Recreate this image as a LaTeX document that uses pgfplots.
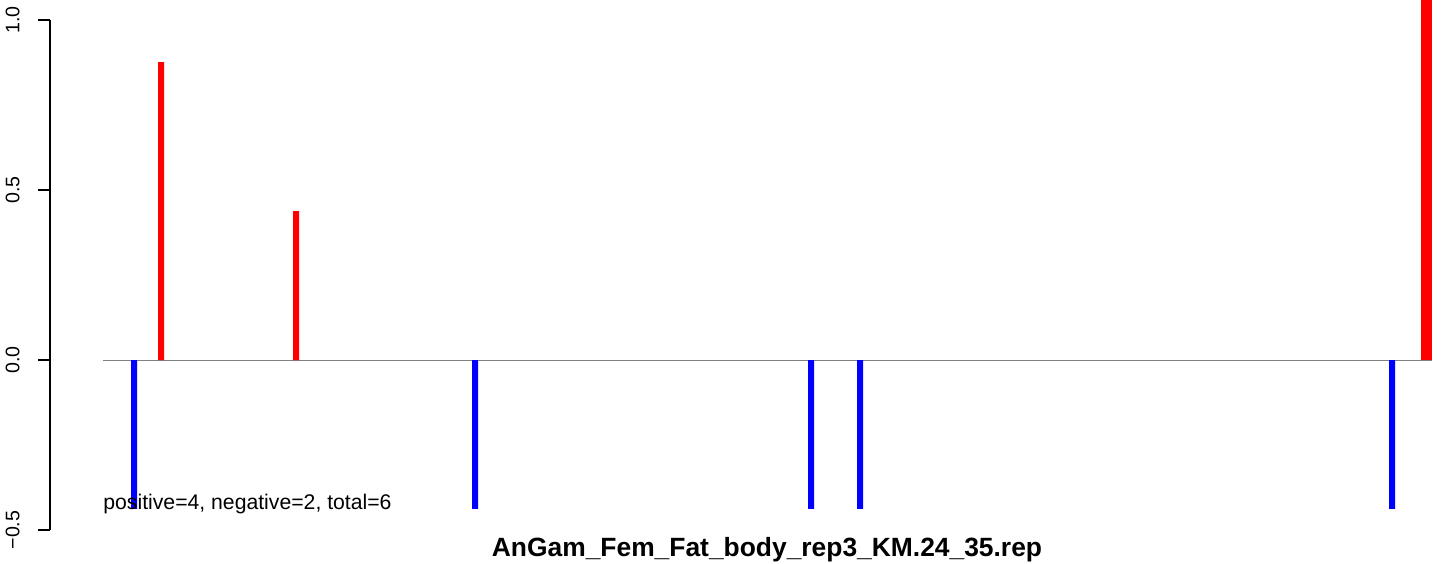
\documentclass[border=0pt]{standalone}
\usepackage{pgfplots}
\pgfplotsset{compat=1.18}
\usepackage{fontspec}
\setmainfont{Liberation Sans}
\begin{document}
\begin{tikzpicture}
\path[use as bounding box] (0,0) rectangle (722pt,281.5pt);
\begin{axis}[
  at={(25pt,16.5pt)}, anchor=south west,
  scale only axis, width=697pt, height=255pt,
  xmin=50, xmax=1444, ymin=-0.5, ymax=1.0,
  axis x line=none, axis y line=left,
  y axis line style={-, line width=0.6pt},
  xtick=\empty,
  ytick={-0.5,0,0.5,1}, yticklabels={−0.5,0.0,0.5,1.0},
  ytick align=outside, ytick pos=left, major tick length=6pt,
  ytick style={draw=black, line width=0.6pt},
  yticklabel style={font=\fontsize{9.8}{10}\selectfont, rotate=90, anchor=south, inner sep=0pt, yshift=9pt},
  clip=false,
]
\addplot[gray, line width=0.5pt] coordinates {(103,0) (1432,0)};
\addplot[ybar, bar shift=0pt, bar width=3pt, draw=none, fill={rgb,255:red,0;green,0;blue,255}] coordinates {
  (134,-0.438) (475,-0.438) (811,-0.438) (860,-0.438) (1392,-0.438)};
\addplot[ybar, bar shift=0pt, bar width=3pt, draw=none, fill={rgb,255:red,255;green,0;blue,0}] coordinates {
  (161,0.876) (296,0.438)};
\addplot[ybar, bar shift=0pt, bar width=5.5pt, draw=none, fill={rgb,255:red,255;green,0;blue,0}] coordinates {
  (1426.5,1.06)};
\node[anchor=base west, inner sep=0pt, font=\fontsize{10.6}{12}\selectfont] at (axis cs:103,-0.441) {positive=4, negative=2, total=6};
\node[anchor=base, inner sep=0pt, font=\fontsize{13.2}{15}\selectfont\bfseries] at (axis cs:767,-0.579) {AnGam\_Fem\_Fat\_body\_rep3\_KM.24\_35.rep};
\end{axis}
\end{tikzpicture}
\end{document}
